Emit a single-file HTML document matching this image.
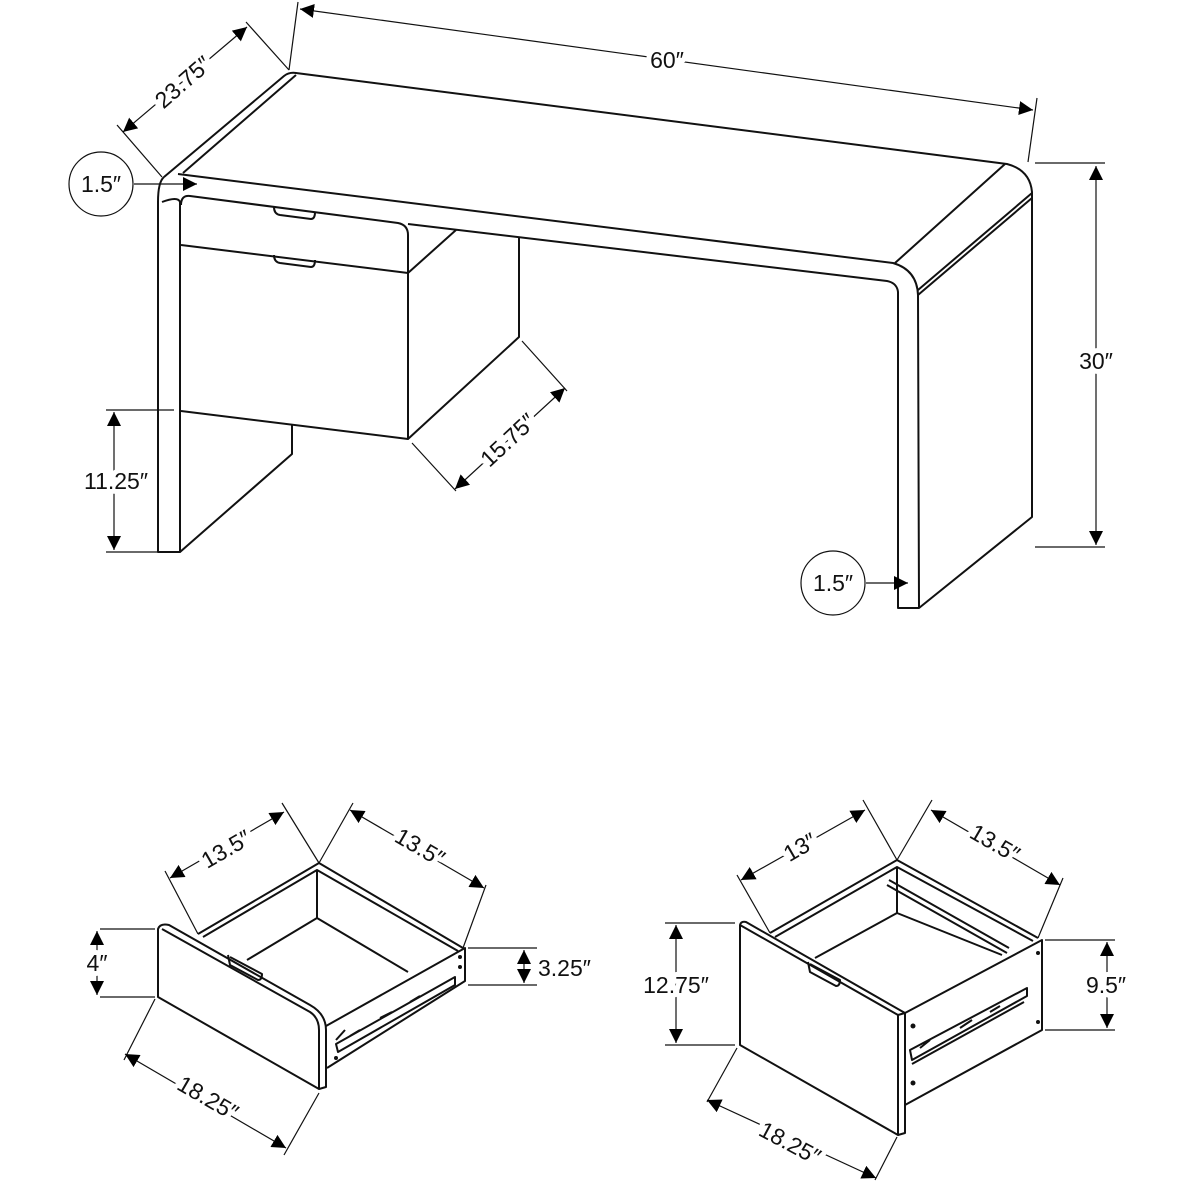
<!DOCTYPE html>
<html><head><meta charset="utf-8"><style>
html,body{margin:0;padding:0;background:#fff;}
svg{display:block;}
text{font-family:"Liberation Sans",sans-serif;font-size:23px;fill:#111;paint-order:stroke;stroke:#fff;stroke-width:10px;stroke-linejoin:round;}
</style></head><body>
<svg width="1200" height="1200" viewBox="0 0 1200 1200" xmlns="http://www.w3.org/2000/svg">
<defs>
<marker id="a" viewBox="0 0 10 10" refX="10" refY="5" markerWidth="14" markerHeight="14" markerUnits="userSpaceOnUse" orient="auto-start-reverse">
<path d="M0,0 L10,5 L0,10 z" fill="#000"/></marker>
</defs>
<g fill="none" stroke="#111" stroke-width="2" stroke-linejoin="round">
<!-- desk top -->
<path d="M164,177 L284,76 Q289,72 296,73 L1007,164 Q1030,170 1032,192 L1032,517 L919,608 L898,608 L898,292 Q897,283 887,281 L408,224"/>
<path d="M183,173 L296,75"/>
<path d="M178,174 L893,263 Q917,270 918,295 L919,608"/>
<path d="M895,263 L1005,164"/>
<path d="M918,290 L1032,193 M918,295 L1032,198"/>
<path d="M164,177 Q158,182 158,202 L158,552 L180,552 L180,202 Q178,196 162,202"/>
<path d="M180,552 L292,454 L292,425"/>
<!-- cabinet -->
<path d="M181,205 Q181,195 190,196 L398,223 Q408,225 408,235 L408,439 L181,411"/>
<path d="M181,245 L408,273"/>
<path d="M408,273 L456,230 M408,439 L519,337 L519,237"/>
<path d="M274,207 Q274,214 280,215 L311,219 Q315,219 315,212"/>
<path d="M274,255 Q274,262 280,263 L311,267 Q315,267 315,260"/>
</g>
<!-- dimensions desk -->
<g fill="none" stroke="#111" stroke-width="1.2">
<path d="M289,70 L298,2 M1028,162 L1037,98"/>
<line x1="300" y1="9" x2="1033" y2="110" marker-start="url(#a)" marker-end="url(#a)"/>
<path d="M162,177 L117,125 M289,70 L246,22"/>
<line x1="123" y1="132" x2="247" y2="27" marker-start="url(#a)" marker-end="url(#a)"/>
<path d="M1035,163 L1105,163 M1035,547 L1105,547"/>
<line x1="1096" y1="166" x2="1096" y2="545" marker-start="url(#a)" marker-end="url(#a)"/>
<path d="M106,410 L174,410 M106,552 L158,552"/>
<line x1="114" y1="412" x2="114" y2="550" marker-start="url(#a)" marker-end="url(#a)"/>
<path d="M412,443 L456,491 M522,341 L567,391"/>
<line x1="455" y1="489" x2="565" y2="388" marker-start="url(#a)" marker-end="url(#a)"/>
<circle cx="101" cy="184" r="32"/>
<line x1="134" y1="184" x2="197" y2="184" marker-end="url(#a)"/>
<circle cx="833" cy="583" r="32"/>
<line x1="866" y1="583" x2="908" y2="583" marker-end="url(#a)"/>
</g>
<text x="667" y="68" text-anchor="middle">60″</text>
<text x="1096" y="369" text-anchor="middle">30″</text>
<text x="116" y="489" text-anchor="middle">11.25″</text>
<text transform="translate(183,82) rotate(-41)" text-anchor="middle" dy="8">23.75″</text>
<text transform="translate(508,440) rotate(-43)" text-anchor="middle" dy="8">15.75″</text>
<text x="101" y="192" text-anchor="middle" style="stroke:none">1.5″</text>
<text x="833" y="591" text-anchor="middle" style="stroke:none">1.5″</text>

<!-- drawer left -->
<g fill="none" stroke="#111" stroke-width="2" stroke-linejoin="round">
<path d="M158,929 Q160,923 169,925 L310,1005 Q326,1014 326,1030 L326,1087 L319,1089 L158,997 Z"/>
<path d="M162,929 L310,1012 Q319,1018 319,1030 L319,1089"/>
<path d="M198,934 L319,863 L463,948"/>
<path d="M203,937 L317,870 L458,951"/>
<path d="M317,870 L317,918 L247,960 M317,918 L408,972"/>
<path d="M326,1026 L465,948 L465,981 L327,1068"/>
<path d="M228,955 L230,965 L258,980 Q262,980 262,974 L230,957"/>
<path d="M336,1044 L455,977 L455,985 L338,1052 Z M336,1040 L345,1030 M350,1036 L360,1030 M380,1018 L392,1012 M410,1002 L420,996"/>
</g>
<g fill="#111"><circle cx="336" cy="1058" r="2"/><circle cx="460" cy="957" r="2"/><circle cx="460" cy="967" r="2"/></g>
<g fill="none" stroke="#111" stroke-width="1.2">
<path d="M100,929 L155,929 M100,997 L155,997"/>
<line x1="97" y1="931" x2="97" y2="995" marker-start="url(#a)" marker-end="url(#a)"/>
<path d="M468,948 L537,948 M468,985 L537,985"/>
<line x1="524" y1="950" x2="524" y2="983" marker-start="url(#a)" marker-end="url(#a)"/>
<path d="M198,934 L165,871 M319,863 L282,803"/>
<line x1="170" y1="878" x2="284" y2="812" marker-start="url(#a)" marker-end="url(#a)"/>
<path d="M319,863 L353,803 M463,948 L486,885"/>
<line x1="350" y1="810" x2="484" y2="888" marker-start="url(#a)" marker-end="url(#a)"/>
<path d="M155,999 L124,1060 M319,1093 L284,1155"/>
<line x1="125" y1="1054" x2="286" y2="1148" marker-start="url(#a)" marker-end="url(#a)"/>
</g>
<text x="97" y="971" text-anchor="middle">4″</text>
<text x="538" y="976">3.25″</text>
<text transform="translate(226,849) rotate(-30)" text-anchor="middle" dy="8">13.5″</text>
<text transform="translate(420,847) rotate(30)" text-anchor="middle" dy="8">13.5″</text>
<text transform="translate(208,1098) rotate(30)" text-anchor="middle" dy="8">18.25″</text>

<!-- drawer right -->
<g fill="none" stroke="#111" stroke-width="2" stroke-linejoin="round">
<path d="M740,925 Q741,921 746,922 L905,1013 L905,1133 L898,1135 L740,1045 Z"/>
<path d="M740,925 L898,1015 L898,1135 M898,1015 L905,1013"/>
<path d="M770,933 L897,860 L1038,938"/>
<path d="M775,937 L897,867 L1033,941"/>
<path d="M897,867 L897,913 L815,958 M897,913 L1002,955"/>
<path d="M887,885 L1007,953 M889,880 L1009,948"/>
<path d="M905,1013 L1042,940 L1042,1030 L905,1105"/>
<path d="M808,962 L810,972 L836,986 Q840,986 840,980 L810,964"/>
<path d="M910,1050 L1027,988 L1027,996 L912,1060 Z M912,1064 L1024,1002 M920,1048 L930,1040 M960,1028 L972,1020 M990,1012 L1000,1006"/>
</g>
<g fill="#111"><circle cx="913" cy="1026" r="2.5"/><circle cx="913" cy="1083" r="2.5"/><circle cx="1038" cy="953" r="2"/><circle cx="1038" cy="1022" r="2"/></g>
<g fill="none" stroke="#111" stroke-width="1.2">
<path d="M665,923 L735,923 M665,1045 L735,1045"/>
<line x1="676" y1="925" x2="676" y2="1043" marker-start="url(#a)" marker-end="url(#a)"/>
<path d="M1045,940 L1115,940 M1045,1030 L1115,1030"/>
<line x1="1107" y1="942" x2="1107" y2="1028" marker-start="url(#a)" marker-end="url(#a)"/>
<path d="M770,933 L737,875 M897,860 L863,800"/>
<line x1="741" y1="880" x2="865" y2="810" marker-start="url(#a)" marker-end="url(#a)"/>
<path d="M897,860 L932,800 M1038,938 L1063,878"/>
<line x1="931" y1="810" x2="1060" y2="885" marker-start="url(#a)" marker-end="url(#a)"/>
<path d="M737,1048 L707,1102 M897,1137 L875,1180"/>
<line x1="707" y1="1100" x2="876" y2="1178" marker-start="url(#a)" marker-end="url(#a)"/>
</g>
<text x="676" y="993" text-anchor="middle">12.75″</text>
<text x="1106" y="993" text-anchor="middle">9.5″</text>
<text transform="translate(800,847) rotate(-30)" text-anchor="middle" dy="8">13″</text>
<text transform="translate(995,843) rotate(30)" text-anchor="middle" dy="8">13.5″</text>
<text transform="translate(790,1143) rotate(28)" text-anchor="middle" dy="8">18.25″</text>
</svg>
</body></html>
